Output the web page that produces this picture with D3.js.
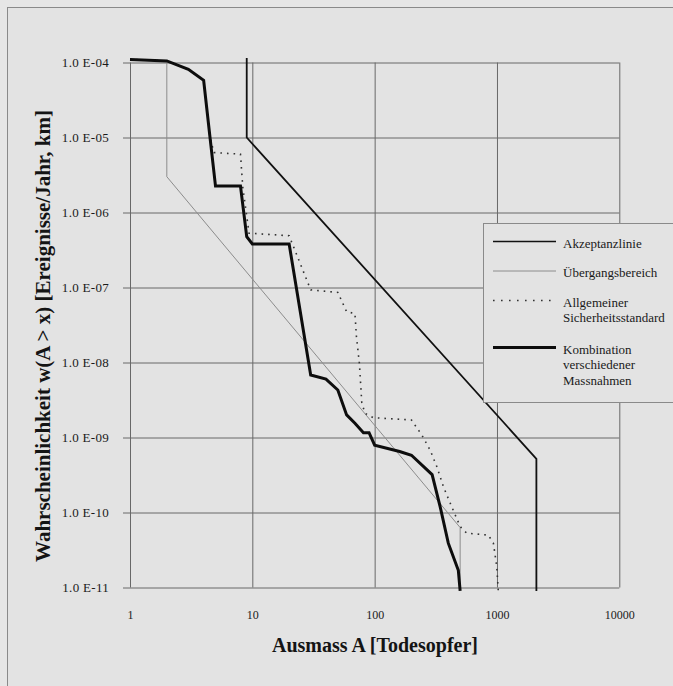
<!DOCTYPE html>
<html>
  <head>
    <meta charset="UTF-8" />
    <script src="https://d3js.org/d3.v7.min.js"></script>
    <style>
      body { margin: 0; background: #e6e6e6; }
    </style>
  </head>
  <body>
    <svg id="chart" width="673" height="686" font-family="'Liberation Serif', 'Times New Roman', serif"></svg>
    <script>
      // values
      var xTicks = [1, 10, 100, 1000, 10000];
      var yTicks = [1e-4, 1e-5, 1e-6, 1e-7, 1e-8, 1e-9, 1e-10, 1e-11];
      var yTickLabels = ["1.0 E-04", "1.0 E-05", "1.0 E-06", "1.0 E-07", "1.0 E-08", "1.0 E-09", "1.0 E-10", "1.0 E-11"];

      var akzeptanzA = [9, 9, 2100, 2100];
      var akzeptanzW = [1.15e-4, 1e-5, 5.2e-10, 9e-12];

      var uebergangA = [2, 2, 500, 500];
      var uebergangW = [1e-4, 3e-6, 6.3e-11, 1e-11];

      var standardA = [1, 2, 3, 4, 4.5, 4.85, 8, 8.35, 9.4, 20, 30, 50, 59, 69, 71, 75, 78.5, 83.5, 97, 200, 243, 284, 322, 365, 427, 500, 566, 850, 935, 996, 1025];
      var standardW = [1.1e-4, 1.05e-4, 8.1e-5, 5.8e-5, 1.03e-5, 6.3e-6, 6e-6, 2.2e-6, 5.3e-7, 4.9e-7, 9.3e-8, 8.6e-8, 4.75e-8, 4.5e-8, 2.2e-8, 9.8e-9, 2.9e-9, 2.1e-9, 1.84e-9, 1.71e-9, 1.08e-9, 6.8e-10, 4.1e-10, 2.2e-10, 1.19e-10, 6.5e-11, 5.3e-11, 5.0e-11, 3.9e-11, 1.9e-11, 9e-12];

      var kombiA = [1, 2, 3, 4, 4.5, 5, 8, 9, 10, 20, 30, 40, 50, 59, 69, 81, 90, 100, 160, 200, 295, 343, 400, 483, 500];
      var kombiW = [1.1e-4, 1.05e-4, 8.1e-5, 5.8e-5, 1.03e-5, 2.25e-6, 2.25e-6, 4.75e-7, 3.8e-7, 3.8e-7, 6.8e-9, 6.0e-9, 4.3e-9, 2.0e-9, 1.55e-9, 1.16e-9, 1.16e-9, 7.9e-10, 6.5e-10, 5.8e-10, 3.2e-10, 1.2e-10, 3.9e-11, 1.7e-11, 9e-12];

      var legendLabels = [["Akzeptanzlinie"], ["Übergangsbereich"], ["Allgemeiner", "Sicherheitsstandard"], ["Kombination", "verschiedener", "Massnahmen"]];

      var svg = d3.select("#chart");
      var serif = "'Liberation Serif', 'Times New Roman', serif";

      // outer frame
      svg.append("rect")
        .attr("x", 7.5).attr("y", 7.5)
        .attr("width", 700).attr("height", 700)
        .attr("fill", "#e3e3e3")
        .attr("stroke", "#8a8a8a");

      var x = d3.scaleLog().domain([1, 10000]).range([130, 619.3]);
      var y = d3.scaleLog().domain([1e-4, 1e-11]).range([62.5, 587.5]);

      // grid
      svg.append("g")
        .attr("transform", "translate(0," + y(1e-11) + ")")
        .call(d3.axisBottom(x).tickValues(xTicks).tickSize(-(y(1e-11) - y(1e-4))).tickFormat(""))
        .call(function(g) { g.select(".domain").remove(); })
        .selectAll("line").attr("stroke", "#686868");

      svg.append("g")
        .attr("transform", "translate(" + x(1) + ",0)")
        .call(d3.axisLeft(y).tickValues(yTicks).tickSizeInner(-(x(10000) - x(1)))
          .tickSizeOuter(0).tickFormat(""))
        .call(function(g) { g.select(".domain").remove(); })
        .selectAll("line").attr("stroke", "#686868");

      // y labels with short outside ticks
      var yAxis = svg.append("g")
        .attr("transform", "translate(" + x(1) + ",0)")
        .call(d3.axisLeft(y).tickValues(yTicks).tickSize(7).tickPadding(14)
          .tickFormat(function(d, i) { return yTickLabels[i]; }));
      yAxis.attr("font-family", serif).attr("font-size", 13);
      yAxis.select(".domain").remove();
      yAxis.selectAll("line").attr("stroke", "#686868");
      yAxis.selectAll("text").attr("fill", "#1a1a1a").attr("letter-spacing", 0.3);

      var xAxis = svg.append("g")
        .attr("transform", "translate(0," + y(1e-11) + ")")
        .call(d3.axisBottom(x).tickValues(xTicks).tickSize(0).tickPadding(23)
          .tickFormat(d3.format("d")));
      xAxis.attr("font-family", serif).attr("font-size", 12);
      xAxis.select(".domain").remove();
      xAxis.selectAll("text").attr("fill", "#1a1a1a");

      var line = d3.line()
        .x(function(d) { return x(d[0]); })
        .y(function(d) { return y(d[1]); });

      function pairs(a, w) { return a.map(function(v, i) { return [v, w[i]]; }); }

      svg.append("path").datum(pairs(uebergangA, uebergangW))
        .attr("d", line).attr("fill", "none")
        .attr("stroke", "#8c8c8c").attr("stroke-width", 1);

      svg.append("path").datum(pairs(standardA, standardW))
        .attr("d", line).attr("fill", "none")
        .attr("stroke", "#333").attr("stroke-width", 1.6)
        .attr("stroke-dasharray", "1.6,5");

      svg.append("path").datum(pairs(akzeptanzA, akzeptanzW))
        .attr("d", line).attr("fill", "none")
        .attr("stroke", "#111").attr("stroke-width", 1.8);

      svg.append("path").datum(pairs(kombiA, kombiW))
        .attr("d", line).attr("fill", "none")
        .attr("stroke", "#0d0d0d").attr("stroke-width", 3);

      // legend
      var lg = svg.append("g");
      lg.append("rect")
        .attr("x", 483.5).attr("y", 223.5)
        .attr("width", 200).attr("height", 179)
        .attr("fill", "#e3e3e3").attr("stroke", "#8a8a8a");

      var legendStyles = [
        { stroke: "#111", width: 1.6, dash: null },
        { stroke: "#8c8c8c", width: 1, dash: null },
        { stroke: "#333", width: 1.5, dash: "1.6,6.4" },
        { stroke: "#0d0d0d", width: 3, dash: null }
      ];
      var legendLineY = [241.5, 271, 300.5, 347.5];

      legendLabels.forEach(function(lines, i) {
        var st = legendStyles[i];
        lg.append("line")
          .attr("x1", 493).attr("x2", 556)
          .attr("y1", legendLineY[i]).attr("y2", legendLineY[i])
          .attr("stroke", st.stroke).attr("stroke-width", st.width)
          .attr("stroke-dasharray", st.dash);
        var t = lg.append("text")
          .attr("x", 563).attr("y", legendLineY[i] + 6)
          .attr("font-size", 13).attr("fill", "#1a1a1a");
        lines.forEach(function(s, j) {
          t.append("tspan").attr("x", 563).attr("dy", j === 0 ? 0 : 15.8).text(s);
        });
      });

      // axis titles
      svg.append("text")
        .attr("x", 375).attr("y", 652)
        .attr("text-anchor", "middle")
        .attr("font-size", 20)
        .attr("font-weight", "bold")
        .attr("fill", "#141414")
        .text("Ausmass A [Todesopfer]");

      svg.append("text")
        .attr("transform", "translate(50,336) rotate(-90)")
        .attr("text-anchor", "middle")
        .attr("font-size", 21)
        .attr("font-weight", "bold")
        .attr("fill", "#141414")
        .text("Wahrscheinlichkeit w(A > x) [Ereignisse/Jahr, km]");
    </script>
  </body>
</html>
